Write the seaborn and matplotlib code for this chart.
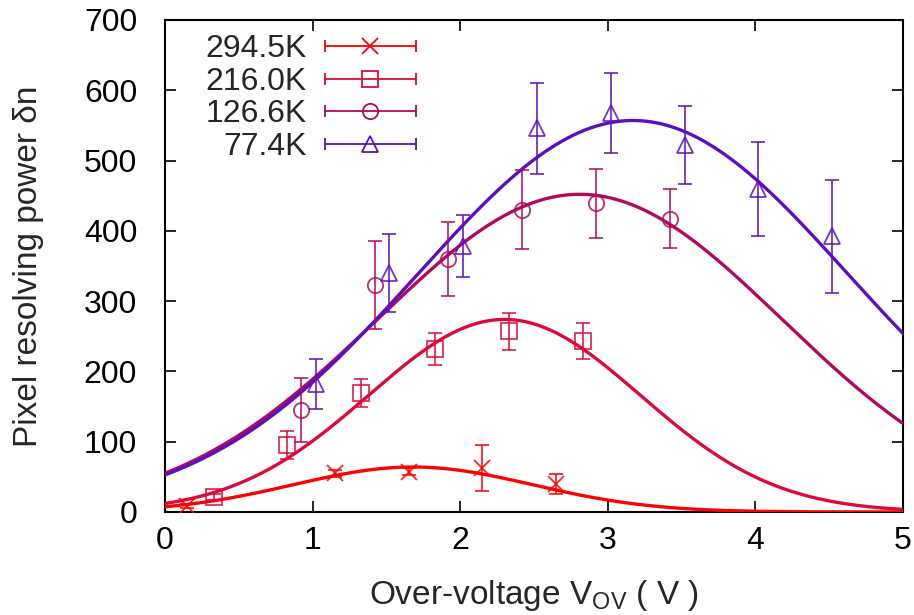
import numpy as np
import pandas as pd
import matplotlib
matplotlib.use("Agg")
import matplotlib.pyplot as plt
from matplotlib.lines import Line2D
from matplotlib.legend_handler import HandlerBase
import seaborn as sns

# -------------------- data --------------------
temps = ["294.5K", "216.0K", "126.6K", "77.4K"]

x_2945 = [0.15, 1.15, 1.65, 2.15, 2.65]
y_2945 = [8, 55, 57, 63, 40]
e_2945 = [3, 5, 5, 33, 14]

x_2160 = [0.33, 0.83, 1.33, 1.83, 2.33, 2.83]
y_2160 = [21, 95, 169, 232, 257, 243]
e_2160 = [4, 20, 20, 23, 26, 26]

x_1266 = [0.92, 1.42, 1.92, 2.42, 2.92, 3.42]
y_1266 = [145, 323, 360, 430, 439, 417]
e_1266 = [45, 62, 52, 56, 49, 42]

x_774 = [1.02, 1.52, 2.02, 2.52, 3.02, 3.52, 4.02, 4.52]
y_774 = [182, 340, 379, 546, 568, 522, 459, 392]
e_774 = [35, 55, 44, 65, 57, 56, 67, 80]

# gaussian fit parameters: amplitude, centre, sigma
fit_amp = [64, 274, 452, 557]
fit_mu = [1.68, 2.30, 2.81, 3.17]
fit_sig = [0.81, 0.92, 1.37, 1.46]

colors = ["#ff0000", "#dc0a3a", "#b00a5c", "#5a10c0"]
markers = ["x", "s", "o", "^"]
# ---------------------------------------------------------------------

sns.set_theme(style="ticks")
plt.rcParams["font.family"] = ["Liberation Sans", "DejaVu Sans"]
plt.rcParams["mathtext.default"] = "regular"

FS = 23


class HandlerGnuErr(HandlerBase):
    # gnuplot-like key sample: horizontal bar with end caps + symbol
    def __init__(self, color, marker):
        super().__init__()
        self.color, self.marker = color, marker

    def create_artists(self, legend, orig, xd, yd, w, h, fs, trans):
        y = yd + h / 2
        line = Line2D([xd, xd + w], [y, y], color=self.color, lw=1.3, transform=trans)
        caps = Line2D([xd, xd + w], [y, y], ls="none", marker="|", ms=9,
                      mew=1.3, color=self.color, transform=trans)
        sym = Line2D([xd + w / 2], [y], ls="none", marker=self.marker, ms=11,
                     mfc="none", mec=self.color, mew=1.3, transform=trans)
        return [line, caps, sym]


fig, ax = plt.subplots(figsize=(9.14, 6.15), dpi=100)
fig.subplots_adjust(left=0.1805, right=0.988, top=0.9675, bottom=0.1675)

series = [(x_2945, y_2945, e_2945), (x_2160, y_2160, e_2160),
          (x_1266, y_1266, e_1266), (x_774, y_774, e_774)]

xs = np.linspace(0, 5, 300)
handles = []
for i, (xv, yv, ev) in enumerate(series):
    curve = pd.DataFrame({"x": xs, "y": fit_amp[i] * np.exp(-(xs - fit_mu[i]) ** 2 / (2 * fit_sig[i] ** 2))})
    sns.lineplot(data=curve, x="x", y="y", color=colors[i], lw=2.4, ax=ax, zorder=3)
    ms = 11 if markers[i] != "x" else 12
    ax.errorbar(xv, yv, yerr=ev, fmt=markers[i], color=colors[i], mfc="none",
                mec=colors[i], ms=ms, mew=1.3, elinewidth=1.3, capsize=5,
                capthick=1.3, alpha=0.85, zorder=4)
    handles.append(Line2D([], [], color=colors[i]))

ax.set_xlim(0, 5)
ax.set_ylim(0, 700)
ax.set_xticks(range(0, 6))
ax.set_yticks(range(0, 701, 100))
ax.tick_params(direction="in", length=8, width=1.2, top=True, right=True,
               labelsize=FS, colors="black")
ax.tick_params(axis="x", pad=10)
ax.tick_params(axis="y", pad=20)
for s in ax.spines.values():
    s.set_linewidth(1.5)
    s.set_color("black")

ax.set_xlabel("Over-voltage V$_{OV}$ ( V )", fontsize=24, labelpad=16)
ax.set_ylabel("Pixel resolving power δn", fontsize=24, labelpad=29)

# markerfirst=False right-aligns the labels against the key samples
leg = ax.legend(handles, temps, loc="upper left", bbox_to_anchor=(0.035, 1.0),
                frameon=False, fontsize=FS, markerfirst=False, handlelength=2.85,
                handletextpad=0.57, labelspacing=0.08, borderaxespad=0.05,
                handler_map={h: HandlerGnuErr(colors[i], markers[i]) for i, h in enumerate(handles)})

fig.savefig("out.png", dpi=100)
